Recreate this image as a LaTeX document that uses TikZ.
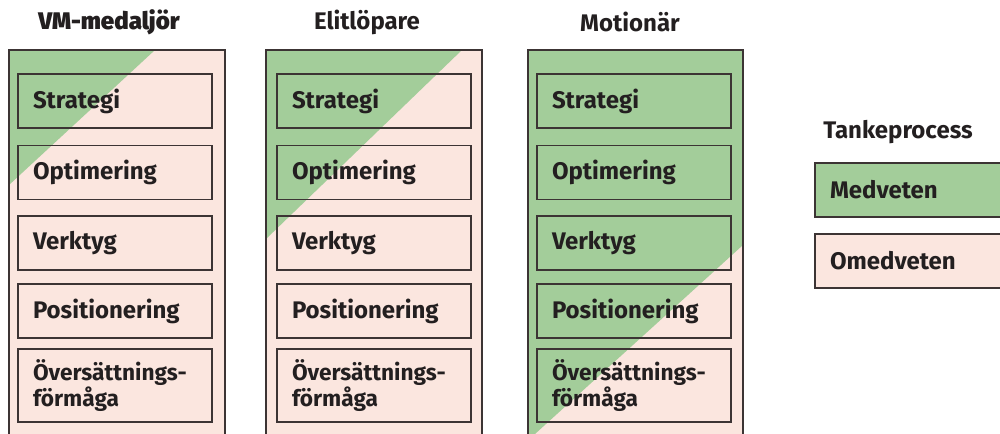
\documentclass[tikz,border=0pt]{standalone}
\usepackage{fontspec}
\setmainfont{Fira Sans}
\IfFontExistsTF{Fira Sans Black}{\newfontfamily\tjock{Fira Sans Black}}{%
	\IfFontExistsTF{FiraSans-Black.otf}{\newfontfamily\tjock{FiraSans-Black.otf}}{%
		\IfFontExistsTF{FiraSans-Heavy.otf}{\newfontfamily\tjock{FiraSans-Heavy.otf}}{%
			\IfFontExistsTF{Fira Sans ExtraBold}{\newfontfamily\tjock{Fira Sans ExtraBold}}{\newcommand\tjock{\bfseries}}}}}
\usetikzlibrary{positioning}

\definecolor{medgron}{RGB}{163,205,154}
\definecolor{omedrosa}{RGB}{251,230,223}
\definecolor{kant}{RGB}{60,52,52}
\definecolor{svart}{RGB}{35,31,32}

\tikzset{
	ruta/.style={draw=kant, line width=1.1pt, minimum width=145.5pt, minimum height=40.5pt,
		text width=123pt, inner xsep=11.25pt, align=left, text=svart,
		font=\bfseries\fontsize{18}{19.5}\selectfont},
	rubrik/.style={text=svart, font=\bfseries\fontsize{18}{20}\selectfont},
	ram/.style={kant, line width=1.9pt},
}

\begin{document}
\begin{tikzpicture}[x=0.75pt, y=-0.75pt]
			\useasboundingbox (0,0) rectangle (1000,434);
			% kolumnernas bakgrund
			\fill[omedrosa] (9,50) rectangle (225,440);
			\fill[medgron] (9,50) -- (155,50) -- (9,185) -- cycle;
			\fill[omedrosa] (266,50) rectangle (482,440);
			\fill[medgron] (266,50) -- (462,50) -- (266,239) -- cycle;
			\fill[omedrosa] (528,50) rectangle (743,440);
			\fill[medgron] (528,50) -- (743,50) -- (743,245) -- (535,434) -- (528,434) -- cycle;
			\draw[ram] (9,440) -- (9,50) -- (225,50) -- (225,440);
			\draw[ram] (266,440) -- (266,50) -- (482,50) -- (482,440);
			\draw[ram] (528,440) -- (528,50) -- (743,50) -- (743,440);
			% rubriker
			\node[rubrik, font=\tjock\fontsize{18}{20}\selectfont] (vm) at (109,22) {VM-medaljör};
			\node[rubrik] (elit) at (367,22) {Elitlöpare};
			\node[rubrik] (motion) at (630,22) {Motionär};
			% rutor
			\foreach \k/\x in {a/115, b/374, c/634} {
				\node[ruta] (strategi-\k) at (\x,101) {Strategi};
				\node[ruta] (optimering-\k) at (\x,172.5) {Optimering};
				\node[ruta] (verktyg-\k) at (\x,243) {Verktyg};
				\node[ruta] (positionering-\k) at (\x,311) {Positionering};
				\node[ruta, minimum height=54.75pt, font=\bfseries\fontsize{17}{19.5}\selectfont] (oversattning-\k) at (\x,385.5) {Översättnings-\\förmåga};
			}
			% förklaring
			\node[rubrik] (tanke) at (898,132) {Tankeprocess};
			\node[ruta, fill=medgron, minimum width=143.25pt, text width=120.75pt] (medveten) at (910.5,190) {Medveten};
			\node[ruta, fill=omedrosa, minimum width=143.25pt, text width=120.75pt] (omedveten) at (910.5,261) {Omedveten};
		\end{tikzpicture}
\end{document}
